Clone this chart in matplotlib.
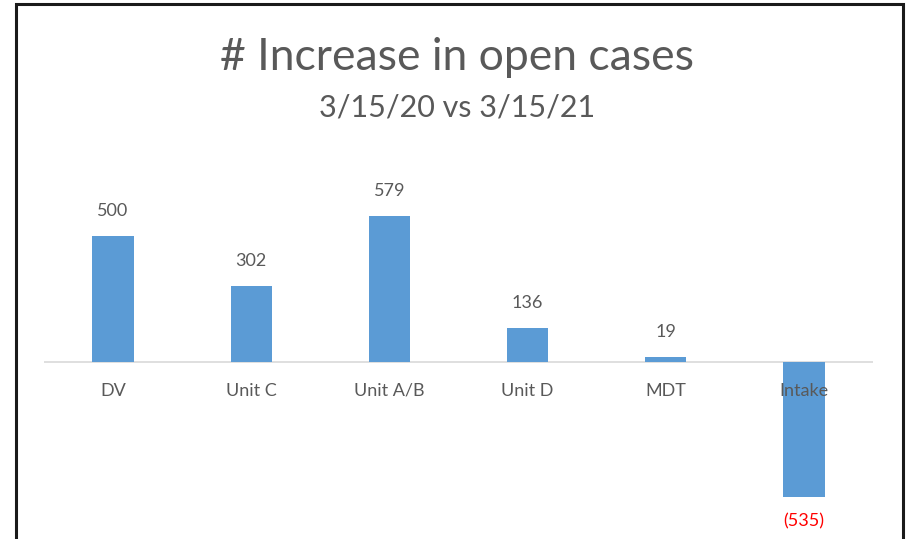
import matplotlib
matplotlib.use("Agg")
from matplotlib import pyplot as plt
from matplotlib.patches import Rectangle

categories = ["DV", "Unit C", "Unit A/B", "Unit D", "MDT", "Intake"]
values = [500, 302, 579, 136, 19, -535]

BAR_COLOR = "#5B9BD5"
TEXT_COLOR = "#595959"

plt.rcParams['font.family'] = ['Lato', 'DejaVu Sans']

W, H = 906, 539
fig = plt.figure(figsize=(W / 100, H / 100), dpi=100)

# chart frame (bottom is cut off in the reference)
fig.add_artist(Rectangle((16 / W, -0.1), (903 - 16) / W, 1.1 - 4.5 / H,
                         transform=fig.transFigure, fill=False,
                         edgecolor="#1a1a1a", linewidth=2.2))

# plot area: zero line at y=362 px, 0.252 px per unit
ax_left, ax_right = 44, 873
ax_top, ax_bot = 160, 539
zero_px = 362
ppu = 0.252
ax = fig.add_axes([ax_left / W, (H - ax_bot) / H,
                   (ax_right - ax_left) / W, (ax_bot - ax_top) / H])
ax.set_xlim(-0.5, len(categories) - 0.5)
ax.set_ylim(-(ax_bot - zero_px) / ppu, (zero_px - ax_top) / ppu)
ax.axis("off")

x = list(range(len(categories)))
ax.bar(x, values, width=0.3, color=BAR_COLOR, zorder=2)
ax.axhline(0, color="#d9d9d9", linewidth=1.2, zorder=1)

for i, (cat, v) in enumerate(zip(categories, values)):
    ax.annotate(cat, (i, 0), xytext=(0, -29), textcoords="offset pixels",
                ha="center", va="center", fontsize=13, color=TEXT_COLOR, zorder=3)
    if v >= 0:
        ax.annotate(f"{v}", (i, v), xytext=(0, 25), textcoords="offset pixels",
                    ha="center", va="center", fontsize=13, color=TEXT_COLOR)
    else:
        ax.annotate(f"({-v})", (i, v), xytext=(0, -25), textcoords="offset pixels",
                    ha="center", va="center", fontsize=13, color="#ff0000")

fig.text(457 / W, 1 - 58 / H, "# Increase in open cases", ha="center", va="center",
         fontsize=32, color=TEXT_COLOR)
fig.text(457 / W, 1 - 107 / H, "3/15/20 vs 3/15/21", ha="center", va="center",
         fontsize=22, color=TEXT_COLOR)

fig.savefig("out.png", dpi=100)
